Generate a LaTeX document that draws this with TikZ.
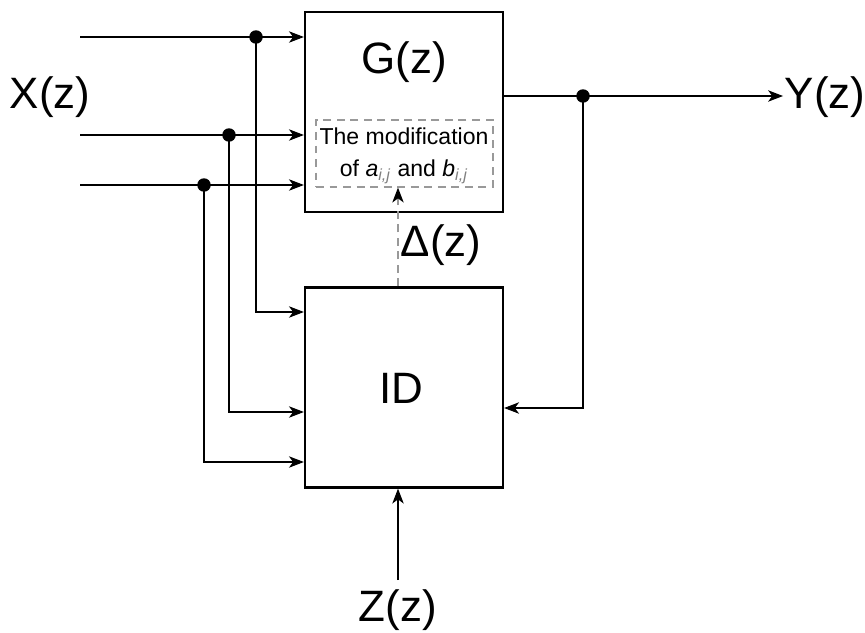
\documentclass[tikz,border=0pt]{standalone}
\usepackage{fontspec}
\setmainfont{Liberation Sans}
\usetikzlibrary{arrows.meta,calc}
\begin{document}
\begin{tikzpicture}[x=0.02cm,y=-0.02cm,
  blk/.style={draw,line width=1.3pt,minimum width=3.96cm,minimum height=4cm,inner sep=0pt},
  wire/.style={line width=0.6pt},
  arr/.style={wire,-{Stealth[length=8.5pt,width=6.5pt,inset=2.4pt]}},
  junc/.style={circle,fill=black,inner sep=0pt,minimum size=0.27cm},
  big/.style={font=\fontsize{25}{28}\selectfont,inner sep=0pt},
  dbox/.style={draw=gray!80,dashed,dash pattern=on 4.5pt off 3.2pt,line width=0.7pt,minimum width=3.54cm,minimum height=1.34cm,inner sep=0pt}
]
\useasboundingbox (0,0) rectangle (865,632);
\node[blk] (G) at (404,112) {};
\node[blk] (ID) at (404,387.5) {};
\node[dbox] (M) at (404.5,153.5) {};
\node[font=\fontsize{13.1}{18}\selectfont,align=center,inner sep=0pt] (Mt) at (404,156)
  {The modification\\of \textit{a}{\color{gray}\textsubscript{\textit{i,j}}} and \textit{b}{\color{gray}\textsubscript{\textit{i,j}}}};
\node[big] (Gl) at (404,62) {G(z)};
\node[big] (IDl) at (401,388) {ID};
\node[big] (Xl) at (50,97) {X(z)};
\node[big] (Yl) at (825,97) {Y(z)};
\node[big] (Zl) at (398,610) {Z(z)};
\node[big] (Dl) at (441,245) {Δ(z)};
% inputs
\coordinate (i1) at (80,37);
\coordinate (i2) at (80,135);
\coordinate (i3) at (80,185);
\node[junc] (j1) at (256,37) {};
\node[junc] (j2) at (229,135) {};
\node[junc] (j3) at (204,185) {};
\draw[arr] (i1) -- (i1 -| G.west);
\draw[arr] (i2) -- (i2 -| G.west);
\draw[arr] (i3) -- (i3 -| G.west);
\coordinate (b1) at (256,312);
\coordinate (b2) at (229,412);
\coordinate (b3) at (204,462);
\draw[arr] (j1.center) -- (b1) -- (b1 -| ID.west);
\draw[arr] (j2.center) -- (b2) -- (b2 -| ID.west);
\draw[arr] (j3.center) -- (b3) -- (b3 -| ID.west);
% output
\coordinate (o1) at (503,96);
\coordinate (oe) at (783,96);
\node[junc] (jo) at (583,96) {};
\draw[arr] (o1) -- (oe);
\coordinate (fb) at (583,408);
\draw[arr] (jo.center) -- (fb) -- (fb -| ID.east);
% Z input
\coordinate (zs) at (398,580);
\draw[arr] (zs) -- (zs |- ID.south);
% Delta
\coordinate (ds) at (398,287);
\draw[dashed,dash pattern=on 4.5pt off 3.2pt,draw=gray!80,line width=0.7pt,-{Stealth[length=8.5pt,width=6.5pt,inset=2.4pt,color=black]}] (ID.north -| ds) -- (ds |- M.south);
\end{tikzpicture}
\end{document}
